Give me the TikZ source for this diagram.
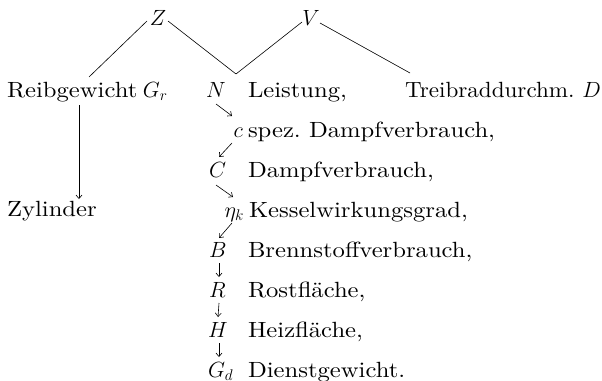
\RequirePackage{fix-cm}
\documentclass[tikz,border=0pt]{standalone}
\usepackage{fontspec}
\setmainfont{lmroman10-regular.otf}[FakeStretch=1.12]
\newfontfamily\narrowrm{lmroman10-regular.otf}[FakeStretch=1.05]
\usetikzlibrary{arrows.meta}
\frenchspacing
\begin{document}
\begin{tikzpicture}[x=1pt,y=-1pt,
  every node/.style={inner sep=0pt,outer sep=0pt,font=\fontsize{22}{26}\selectfont},
  link/.style={line width=0.6pt},
  arr/.style={line width=0.6pt,-{Straight Barb[length=3.5pt,width=6pt]}}]
\useasboundingbox (0,0) rectangle (602,380);
% top
\node[anchor=base] (Z) at (158,25) {$Z$};
\node[anchor=base] (V) at (311,25) {$V$};
% row 1
\node[anchor=base west] (reib) at (7,97) {Reibgewicht\hspace{0.25em}$G_r$};
\node[anchor=base west] (N) at (206,97) {$N$};
\node[anchor=base west] (leist) at (248,97) {Leistung,};
\node[anchor=base west] (treib) at (405,97) {\narrowrm Treibraddurchm. $D$};
% chain
\node[anchor=base east] (c) at (243,137) {$c$};
\node[anchor=base west] (ct) at (248,137) {spez. Dampfverbrauch,};
\node[anchor=base west] (C) at (209,177) {$C$};
\node[anchor=base west] (Ct) at (248,177) {Dampfverbrauch,};
\node[anchor=base east] (eta) at (244,217) {$\eta_k$};
\node[anchor=base west] (etat) at (249,217) {Kesselwirkungsgrad,};
\node[anchor=base west] (B) at (209,257) {$B$};
\node[anchor=base west] (Bt) at (248,257) {Brennstoffverbrauch,};
\node[anchor=base west] (R) at (209,297) {$R$};
\node[anchor=base west] (Rt) at (248,297) {Rostfläche,};
\node[anchor=base west] (H) at (208,337) {$H$};
\node[anchor=base west] (Ht) at (248,337) {Heizfläche,};
\node[anchor=base west] (G) at (208,377) {$G_d$};
\node[anchor=base west] (Gt) at (248,377) {Dienstgewicht.};
% left
\node[anchor=base west] (zyl) at (7,216) {Zylinder};
% tree lines
\coordinate (meet) at ([xshift=30pt,yshift=23pt]N.base west);
\draw[link] ([xshift=-11pt,yshift=4pt]Z.base) -- ([xshift=82pt,yshift=20pt]reib.base west);
\draw[link] ([xshift=10pt,yshift=4pt]Z.base) -- (meet);
\draw[link] ([xshift=-9pt,yshift=3pt]V.base) -- (meet);
\draw[link] ([xshift=9pt,yshift=2pt]V.base) -- ([xshift=5pt,yshift=24pt]treib.base west);
% arrows
\draw[arr] ([xshift=72pt,yshift=-8pt]reib.base west) -- ([xshift=72pt,yshift=17pt]zyl.base west);
\draw[arr] ([xshift=10pt,yshift=-7pt]N.base west) -- ([xshift=-11pt,yshift=21pt]c.base east);
\draw[arr] ([xshift=-11pt,yshift=-6pt]c.base east) -- ([xshift=10pt,yshift=20pt]C.base west);
\draw[arr] ([xshift=7pt,yshift=-8pt]C.base west) -- ([xshift=-11pt,yshift=20pt]eta.base east);
\draw[arr] ([xshift=-12pt,yshift=-6pt]eta.base east) -- ([xshift=10pt,yshift=19pt]B.base west);
\draw[arr] ([xshift=10pt,yshift=-6pt]B.base west) -- ([xshift=10pt,yshift=20pt]R.base west);
\draw[arr] ([xshift=10pt,yshift=-6pt]R.base west) -- ([xshift=10pt,yshift=20pt]H.base west);
\draw[arr] ([xshift=11pt,yshift=-6pt]H.base west) -- ([xshift=11pt,yshift=20pt]G.base west);
\end{tikzpicture}
\end{document}
